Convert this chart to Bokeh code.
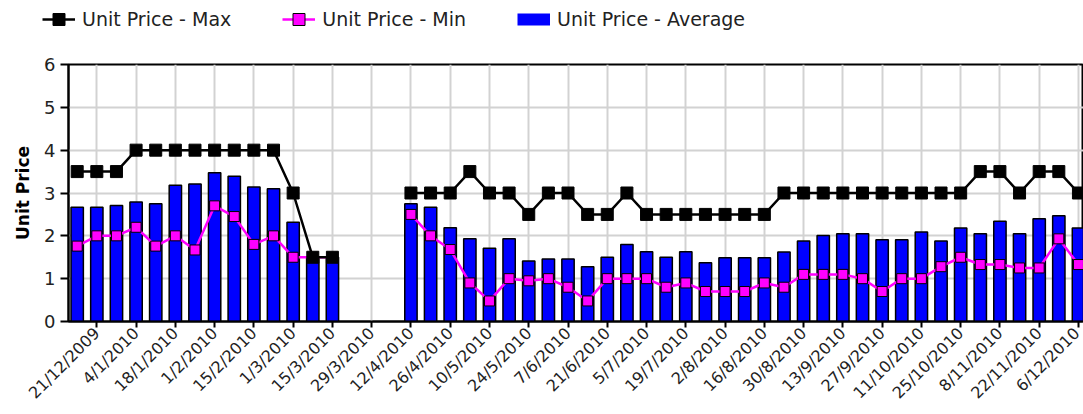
import math
import pandas as pd
from bokeh.plotting import figure
from bokeh.layouts import column
from bokeh.models import (ColumnDataSource, Range1d, FixedTicker, Legend, LegendItem, Title)
from bokeh.embed import file_html
from bokeh.resources import INLINE

# ---------------- data ----------------
weeks = [
    "14/12/2009", "21/12/2009", "28/12/2009", "4/1/2010", "11/1/2010", "18/1/2010",
    "25/1/2010", "1/2/2010", "8/2/2010", "15/2/2010", "22/2/2010", "1/3/2010",
    "8/3/2010", "15/3/2010", "22/3/2010", "29/3/2010", "5/4/2010", "12/4/2010",
    "19/4/2010", "26/4/2010", "3/5/2010", "10/5/2010", "17/5/2010", "24/5/2010",
    "31/5/2010", "7/6/2010", "14/6/2010", "21/6/2010", "28/6/2010", "5/7/2010",
    "12/7/2010", "19/7/2010", "26/7/2010", "2/8/2010", "9/8/2010", "16/8/2010",
    "23/8/2010", "30/8/2010", "6/9/2010", "13/9/2010", "20/9/2010", "27/9/2010",
    "4/10/2010", "11/10/2010", "18/10/2010", "25/10/2010", "1/11/2010", "8/11/2010",
    "15/11/2010", "22/11/2010", "29/11/2010", "6/12/2010",
]

price_avg = [
    2.67, 2.67, 2.71, 2.79, 2.75, 3.18, 3.21, 3.47, 3.39, 3.14, 3.10, 2.32, 1.50, 1.50,
    None, None, None,
    2.75, 2.67, 2.19, 1.93, 1.71, 1.93, 1.41, 1.46, 1.46, 1.28, 1.50, 1.80, 1.63, 1.50,
    1.63, 1.37, 1.49, 1.49, 1.49, 1.62, 1.88, 2.01, 2.05, 2.05, 1.91, 1.91, 2.09, 1.88,
    2.18, 2.05, 2.34, 2.05, 2.40, 2.47, 2.18,
]

price_min = [
    1.76, 2.0, 2.0, 2.2, 1.76, 2.0, 1.67, 2.7, 2.45, 1.8, 2.0, 1.5, 1.5, 1.5,
    None, None, None,
    2.5, 2.0, 1.68, 0.9, 0.48, 1.0, 0.95, 1.0, 0.8, 0.48, 1.0, 1.0, 1.0, 0.8,
    0.9, 0.7, 0.7, 0.7, 0.9, 0.8, 1.1, 1.1, 1.1, 1.0, 0.7, 1.0, 1.0, 1.28,
    1.5, 1.33, 1.33, 1.25, 1.25, 1.93, 1.33,
]

price_max = [
    3.5, 3.5, 3.5, 4.0, 4.0, 4.0, 4.0, 4.0, 4.0, 4.0, 4.0, 3.0, 1.5, 1.5,
    None, None, None,
    3.0, 3.0, 3.0, 3.5, 3.0, 3.0, 2.5, 3.0, 3.0, 2.5, 2.5, 3.0, 2.5, 2.5,
    2.5, 2.5, 2.5, 2.5, 2.5, 3.0, 3.0, 3.0, 3.0, 3.0, 3.0, 3.0, 3.0, 3.0,
    3.0, 3.5, 3.5, 3.0, 3.5, 3.5, 3.0,
]

tick_labels = [
    "21/12/2009", "4/1/2010", "18/1/2010", "1/2/2010", "15/2/2010", "1/3/2010",
    "15/3/2010", "29/3/2010", "12/4/2010", "26/4/2010", "10/5/2010", "24/5/2010",
    "7/6/2010", "21/6/2010", "5/7/2010", "19/7/2010", "2/8/2010", "16/8/2010",
    "30/8/2010", "13/9/2010", "27/9/2010", "11/10/2010", "25/10/2010", "8/11/2010",
    "22/11/2010", "6/12/2010",
]
y_ticks = [0, 1, 2, 3, 4, 5, 6]
y_title = "Unit Price"
series_names = ["Unit Price - Max", "Unit Price - Min", "Unit Price - Average"]

# ---------------- positions (days since first week) ----------------
base = pd.to_datetime(weeks[0], format="%d/%m/%Y")


def day(s):
    return int((pd.to_datetime(s, format="%d/%m/%Y") - base).days)


def nanify(vals):
    return [float("nan") if v is None else v for v in vals]


xs = [day(s) for s in weeks]
tick_x = [day(s) for s in tick_labels]

src = ColumnDataSource(dict(
    x=xs,
    avg=nanify(price_avg),
    mn=nanify(price_min),
    mx=nanify(price_max),
))

FONT = "DejaVu Sans"
BLUE = "#0000ff"
MAGENTA = "#ff00ff"

LEG_H = 44
W = 1083

# ================= main chart =================
p = figure(
    width=W, height=414 - LEG_H,
    x_range=Range1d(tick_x[0] - 10.1, tick_x[-1] + 1.8),
    y_range=Range1d(0, 6),
    output_backend="svg", toolbar_location=None,
    min_border_left=68, min_border_right=0,
    min_border_top=64 - LEG_H, min_border_bottom=93,
)
p.frame_align = False
p.background_fill_color = "white"
p.border_fill_color = "white"
p.outline_line_color = "black"
p.outline_line_width = 2

p.xgrid.grid_line_color = "#d2d2d2"
p.xgrid.grid_line_width = 2
p.ygrid.grid_line_color = "#d2d2d2"
p.ygrid.grid_line_width = 2

bars = p.vbar(x="x", top="avg", width=4.4, source=src,
              fill_color=BLUE, line_color="black", line_width=1.5)

mn_line = p.line("x", "mn", source=src, line_color=MAGENTA, line_width=2.5)
mn_pts = p.scatter("x", "mn", source=src, marker="square", size=10,
                   fill_color=MAGENTA, line_color="black", line_width=1)

mx_line = p.line("x", "mx", source=src, line_color="black", line_width=2.5)
mx_pts = p.scatter("x", "mx", source=src, marker="square", size=12,
                   fill_color="black", line_color="black", line_width=1)

p.yaxis.ticker = FixedTicker(ticks=y_ticks)
p.yaxis.major_label_text_font = FONT
p.yaxis.major_label_text_font_size = "18px"
p.yaxis.major_label_text_color = "#222222"
p.yaxis.major_label_standoff = 5
p.yaxis.axis_line_width = 2
p.yaxis.major_tick_out = 8
p.yaxis.major_tick_in = 0
p.yaxis.major_tick_line_width = 2
p.yaxis.minor_tick_line_color = None

# y-axis title, shifted slightly below the frame centre as in the original
p.add_layout(Title(text=y_title, align="center", offset=-8, standoff=17,
                   text_font=FONT, text_font_style="bold", text_font_size="17px",
                   text_color="black"), "left")

p.xaxis.ticker = FixedTicker(ticks=tick_x)
p.xaxis.major_label_overrides = {tx: lab for tx, lab in zip(tick_x, tick_labels)}
p.xaxis.major_label_orientation = math.pi / 4
p.xaxis.major_label_text_font = FONT
p.xaxis.major_label_text_font_size = "16px"
p.xaxis.major_label_text_color = "#222222"
p.xaxis.major_label_standoff = 3
p.xaxis.axis_line_width = 2
p.xaxis.major_tick_out = 6
p.xaxis.major_tick_in = 0
p.xaxis.major_tick_line_width = 2
p.xaxis.minor_tick_line_color = None

# ================= legend strip (own canvas, so it is not clipped) =================
leg = figure(
    width=W, height=LEG_H,
    x_range=Range1d(-1000, -999), y_range=Range1d(-1000, -999),  # data lies outside: only legend shows
    x_axis_type=None, y_axis_type=None,
    output_backend="svg", toolbar_location=None,
    min_border=0, outline_line_color=None,
)
leg.frame_align = False
leg.xgrid.visible = False
leg.ygrid.visible = False

l_mx_line = leg.line("x", "mx", source=src, line_color="black", line_width=2.5)
l_mx_pts = leg.scatter("x", "mx", source=src, marker="square", size=12,
                       fill_color="black", line_color="black", line_width=1)
l_mn_line = leg.line("x", "mn", source=src, line_color=MAGENTA, line_width=2.5)
l_mn_pts = leg.scatter("x", "mn", source=src, marker="square", size=10,
                       fill_color=MAGENTA, line_color="black", line_width=1)
l_avg = leg.line("x", "avg", source=src, line_color=BLUE, line_width=12, line_cap="butt")

legend = Legend(
    items=[
        LegendItem(label=series_names[0], renderers=[l_mx_line, l_mx_pts], index=0),
        LegendItem(label=series_names[1], renderers=[l_mn_line, l_mn_pts], index=0),
        LegendItem(label=series_names[2], renderers=[l_avg], index=0),
    ],
    orientation="horizontal",
    location=(42, 10),
    glyph_width=33, glyph_height=30,
    label_standoff=7, spacing=51, padding=0, margin=0,
    border_line_color=None, background_fill_alpha=0,
    label_text_font=FONT, label_text_font_size="19px",
    label_text_color="#222222",
)
leg.add_layout(legend)

layout = column(leg, p, spacing=0)
open("out.html", "w").write(file_html(layout, INLINE))
